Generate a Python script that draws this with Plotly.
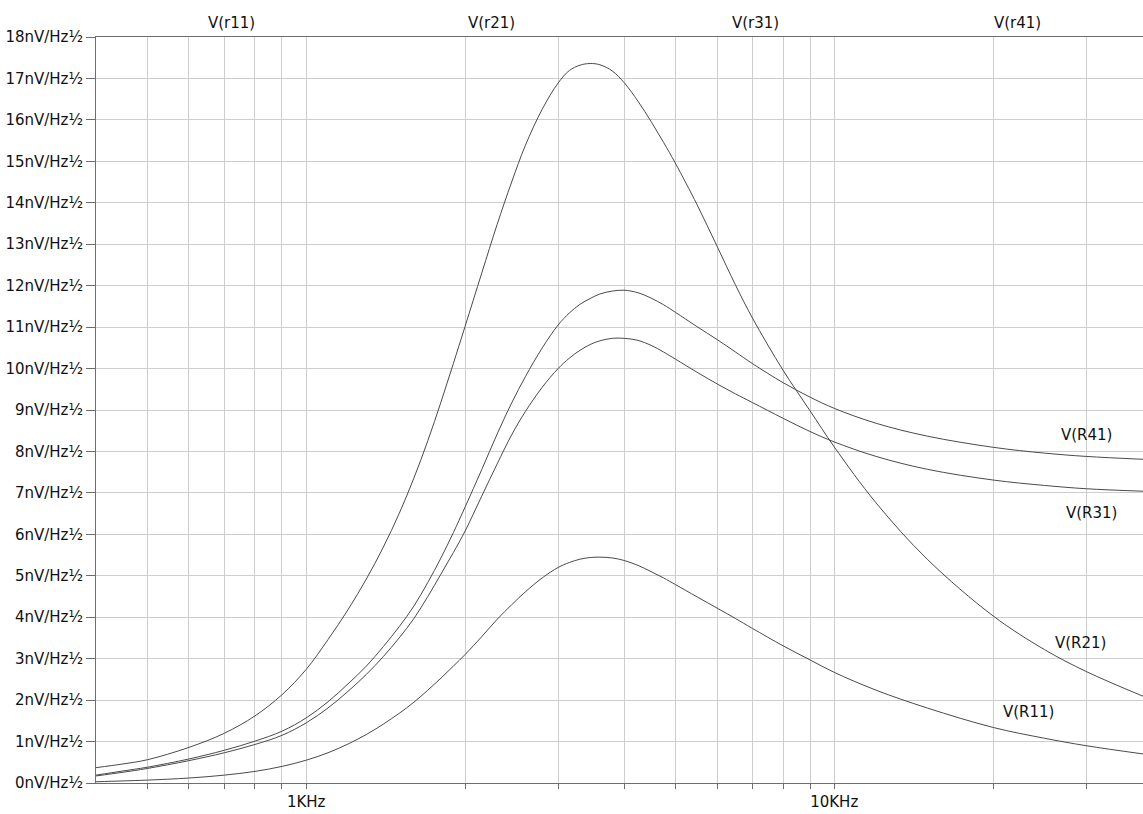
import math
import plotly.graph_objects as go

# Frequencies (Hz)
freq = [400, 450, 500, 600, 700, 800, 900, 1000,
        1100, 1200, 1300, 1400, 1500, 1600, 1700, 1800, 1900, 2000,
        2150, 2300, 2450, 2600, 2800, 3000,
        3150, 3300, 3450, 3600, 3800, 4000,
        4250, 4500, 4750, 5000,
        5500, 6000, 6500, 7000,
        8000, 9000, 10000,
        12000, 15000, 20000, 25000, 30000, 38500]

# Noise density, nV/Hz^0.5
v_r11 = [0.03, 0.05, 0.07, 0.12, 0.19, 0.28, 0.40, 0.55,
         0.73, 0.94, 1.17, 1.42, 1.68, 1.95, 2.24, 2.53, 2.82, 3.10,
         3.53, 3.95, 4.30, 4.61, 4.95, 5.20,
         5.32, 5.40, 5.44, 5.45, 5.43, 5.37,
         5.25, 5.10, 4.95, 4.79,
         4.49, 4.22, 3.97, 3.73,
         3.31, 2.97, 2.67,
         2.24, 1.81, 1.34, 1.08, 0.90, 0.70]
v_r21 = [0.37, 0.46, 0.56, 0.86, 1.20, 1.62, 2.13, 2.74,
         3.46, 4.18, 4.92, 5.69, 6.50, 7.36, 8.26, 9.19, 10.12, 11.02,
         12.30, 13.48, 14.50, 15.38, 16.26, 16.89,
         17.19, 17.32, 17.36, 17.33, 17.18, 16.90,
         16.45, 15.96, 15.46, 14.96,
         13.95, 12.95, 12.02, 11.22,
         9.96, 8.98, 8.11,
         6.76, 5.40, 4.03, 3.22, 2.69, 2.09]
v_r31 = [0.17, 0.26, 0.35, 0.54, 0.73, 0.93, 1.15, 1.45,
         1.81, 2.21, 2.62, 3.05, 3.50, 3.97, 4.50, 5.04, 5.56, 6.08,
         6.92, 7.70, 8.40, 8.96, 9.55, 10.00,
         10.25, 10.44, 10.58, 10.67, 10.73, 10.73,
         10.68, 10.56, 10.40, 10.23,
         9.91, 9.63, 9.39, 9.18,
         8.80, 8.48, 8.23,
         7.88, 7.57, 7.31, 7.18, 7.10, 7.04]
v_r41 = [0.19, 0.29, 0.38, 0.58, 0.79, 1.01, 1.25, 1.57,
         1.96, 2.39, 2.82, 3.29, 3.77, 4.27, 4.84, 5.43, 6.04, 6.66,
         7.56, 8.42, 9.17, 9.80, 10.50, 11.05,
         11.34, 11.55, 11.69, 11.80, 11.87, 11.89,
         11.83, 11.70, 11.54, 11.36,
         11.01, 10.70, 10.40, 10.12,
         9.66, 9.31, 9.04,
         8.68, 8.37, 8.10, 7.96, 7.88, 7.81]

series_names = ["V(r11)", "V(r21)", "V(r31)", "V(r41)"]
end_labels = ["V(R11)", "V(R21)", "V(R31)", "V(R41)"]

y_ticks = list(range(0, 19))
y_ticktext = [f"{i}nV/Hz½" for i in y_ticks]
x_ticks = [500, 600, 700, 800, 900, 1000, 2000, 3000, 4000, 5000, 6000, 7000,
           8000, 9000, 10000, 20000, 30000]
x_ticktext = ["", "", "", "", "", "1KHz", "", "", "", "", "", "", "", "", "10KHz", "", ""]

FONT = "DejaVu Sans"
LINE = "#4a4a4a"
TXT = "#111111"

fig = go.Figure()
for name, vals in zip(series_names, [v_r11, v_r21, v_r31, v_r41]):
    fig.add_trace(go.Scatter(x=freq, y=vals, mode="lines", name=name,
                             line=dict(color=LINE, width=1, shape="spline", smoothing=1.0),
                             showlegend=False, hoverinfo="skip"))

# Top trace titles
top_pos = [0.1295, 0.3776, 0.6303, 0.8805]
for name, px in zip(series_names, top_pos):
    fig.add_annotation(text=name, xref="paper", yref="paper", x=px, y=1.0194,
                       xanchor="center", yanchor="middle", showarrow=False,
                       font=dict(family=FONT, size=15, color=TXT))

# End-of-curve labels
end_pos = {"V(R41)": (0.9465, 0.4668), "V(R31)": (0.9506, 0.3618),
           "V(R21)": (0.9407, 0.1874), "V(R11)": (0.8910, 0.0956)}
for lab in end_labels:
    px, py = end_pos[lab]
    fig.add_annotation(text=lab, xref="paper", yref="paper", x=px, y=py,
                       xanchor="center", yanchor="middle", showarrow=False,
                       font=dict(family=FONT, size=15, color=TXT))

fig.update_xaxes(type="log", range=[math.log10(400), 4.5847],
                 tickvals=x_ticks, ticktext=x_ticktext,
                 showgrid=True, gridcolor="#cdcdcd", gridwidth=1,
                 showline=True, linecolor="#6e6e6e", linewidth=1, mirror=True,
                 ticks="outside", ticklen=5, tickcolor="#6e6e6e", tickwidth=1,
                 tickfont=dict(family=FONT, size=15, color=TXT),
                 zeroline=False)
fig.update_yaxes(range=[0, 18], tickvals=y_ticks, ticktext=y_ticktext,
                 showgrid=True, gridcolor="#cdcdcd", gridwidth=1,
                 showline=True, linecolor="#6e6e6e", linewidth=1,
                 ticks="outside", ticklen=9, tickcolor="#6e6e6e", tickwidth=1,
                 tickfont=dict(family=FONT, size=15, color=TXT),
                 zeroline=False)

fig.update_layout(width=1143, height=814,
                  margin=dict(l=96, r=0, t=37, b=31, pad=0),
                  plot_bgcolor="white", paper_bgcolor="white",
                  font=dict(family=FONT, size=15, color=TXT))

fig.write_html("out.html", config={"displayModeBar": False},
               post_script="document.body.style.margin='0';document.body.style.overflow='hidden';")
